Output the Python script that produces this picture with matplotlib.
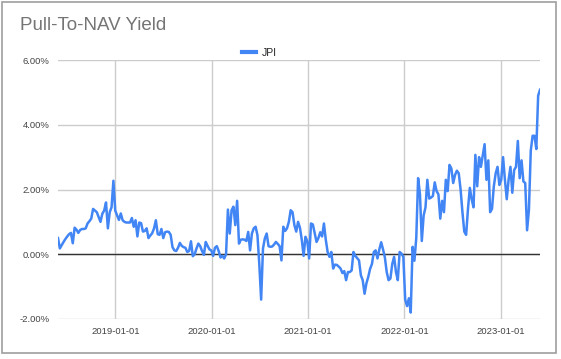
import numpy as np
import pandas as pd
import matplotlib
matplotlib.use("Agg")
import matplotlib.pyplot as plt
import matplotlib.dates as mdates
from matplotlib.patches import Rectangle
from matplotlib.ticker import FuncFormatter

plt.rcParams['font.family'] = ['Liberation Sans', 'DejaVu Sans']

# weekly pull-to-NAV yield (%)
start_date = '2018-05-29'
jpi = [
    0.50, 0.18, 0.28, 0.38, 0.47, 0.55, 0.62, 0.66, 0.34, 0.82,
    0.76, 0.66, 0.75, 0.78, 0.78, 0.80, 0.95, 1.02, 1.10, 1.40,
    1.35, 1.30, 1.15, 1.00, 1.25, 1.35, 1.60, 0.80, 1.30, 1.45,
    2.27, 1.35, 1.20, 1.06, 1.26, 1.05, 1.00, 0.98, 0.98, 0.98,
    1.12, 0.85, 1.05, 0.55, 0.98, 0.96, 0.70, 0.72, 0.80, 0.50,
    0.58, 0.65, 0.80, 1.05, 0.62, 0.60, 0.78, 0.50, 0.68, 0.70,
    0.69, 0.60, 0.22, 0.12, 0.10, 0.20, 0.35, 0.26, 0.22, 0.20,
    0.07, 0.10, 0.40, -0.06, 0.00, 0.18, 0.33, 0.25, 0.10, -0.02,
    0.38, 0.26, 0.15, 0.12, -0.05, 0.20, 0.25, 0.10, -0.10, -0.05,
    -0.13, 0.00, 1.38, 0.64, 1.36, 1.47, 0.90, 1.65, 0.33, 0.45,
    0.46, 0.45, 0.41, 0.69, 0.12, 0.64, 0.80, 0.85, 0.59, -0.30,
    -1.40, 0.18, 0.49, 0.64, 0.25, 0.23, 0.24, 0.30, 0.38, 0.32,
    0.25, -0.19, 0.85, 0.72, 0.80, 1.00, 1.36, 1.30, 0.90, 0.70,
    1.00, 0.82, 0.45, -0.05, 0.54, 0.40, -0.13, 0.95, 0.92, 0.65,
    0.38, 0.50, 0.68, 0.55, 0.95, 0.45, 0.07, -0.08, 0.07, -0.44,
    -0.32, -0.33, -0.38, -0.44, -0.58, -0.52, -0.80, -0.55, -0.55, -0.50,
    0.07, -0.05, -0.12, -0.19, -0.65, -0.80, -1.22, -0.90, -0.70, -0.45,
    -0.30, 0.07, 0.12, -0.13, 0.15, 0.37, 0.15, -0.10, -0.55, -0.80,
    -0.75, -0.30, -0.08, -0.55, -0.80, 0.07, 0.02, -0.08, -1.40, -1.60,
    -1.36, -1.80, 0.23, -0.20, 0.50, 2.35, 1.85, 0.41, 1.20, 1.45,
    2.30, 1.72, 1.75, 1.80, 2.22, 1.95, 1.85, 1.10, 1.65, 1.30,
    2.30, 1.95, 2.76, 2.65, 2.20, 2.45, 2.58, 2.50, 2.00, 1.30,
    0.70, 0.60, 1.40, 2.05, 1.70, 1.45, 3.07, 2.10, 3.00, 2.70,
    3.05, 3.40, 2.30, 2.90, 1.30, 1.40, 2.10, 2.50, 2.70, 2.14,
    2.30, 3.00, 2.30, 1.70, 2.30, 2.70, 1.90, 2.60, 2.70, 3.50,
    2.35, 2.90, 2.25, 2.20, 0.74, 1.37, 3.20, 3.66, 3.66, 3.25,
    4.90, 5.08,
]
dates = pd.date_range(start_date, periods=len(jpi), freq='7D')

y_ticks = [-2, 0, 2, 4, 6]
x_ticks = ['2019-01-01', '2020-01-01', '2021-01-01', '2022-01-01', '2023-01-01']

fig = plt.figure(figsize=(5.61, 3.59), dpi=100)
ax = fig.add_axes([58/561, 1 - 319/359, (540 - 58)/561, (319 - 60)/359])

# outer frame
fig.patches.append(Rectangle((2/561, 1 - 353/359), 554/561, 351/359,
                             transform=fig.transFigure, fill=False,
                             edgecolor='#9e9e9e', linewidth=1.2))

ax.plot(dates, np.array(jpi) / 100, color='#4285F4', linewidth=1.8, label='JPI', zorder=3)
ax.axhline(0, color='#333333', linewidth=1, zorder=2)

ax.set_xlim(dates[0], dates[-1])
ax.set_ylim(-0.02, 0.06)
ax.set_yticks([v / 100 for v in y_ticks])
ax.yaxis.set_major_formatter(FuncFormatter(lambda v, p: f'{v*100:.2f}%'))
ax.set_xticks(pd.to_datetime(x_ticks))
ax.xaxis.set_major_formatter(mdates.DateFormatter('%Y-%m-%d'))

ax.grid(True, color='#cccccc', linewidth=1, zorder=1)
for s in ax.spines.values():
    s.set_visible(False)
ax.tick_params(length=0, labelsize=6.8, colors='#444444')
ax.tick_params(axis='y', pad=6)
ax.tick_params(axis='x', pad=6)

fig.text(20/561, 1 - 30/359, 'Pull-To-NAV Yield', fontsize=13.5, color='#757575',
         ha='left', va='baseline')

leg = fig.legend(loc='center left', bbox_to_anchor=(238/561, 1 - 53/359), frameon=False,
                 fontsize=7.5, handlelength=1.3, handletextpad=0.6, borderaxespad=0)
for h in leg.get_lines():
    h.set_linewidth(3)
for t in leg.get_texts():
    t.set_color('#222222')

fig.savefig('out.png', dpi=100)
